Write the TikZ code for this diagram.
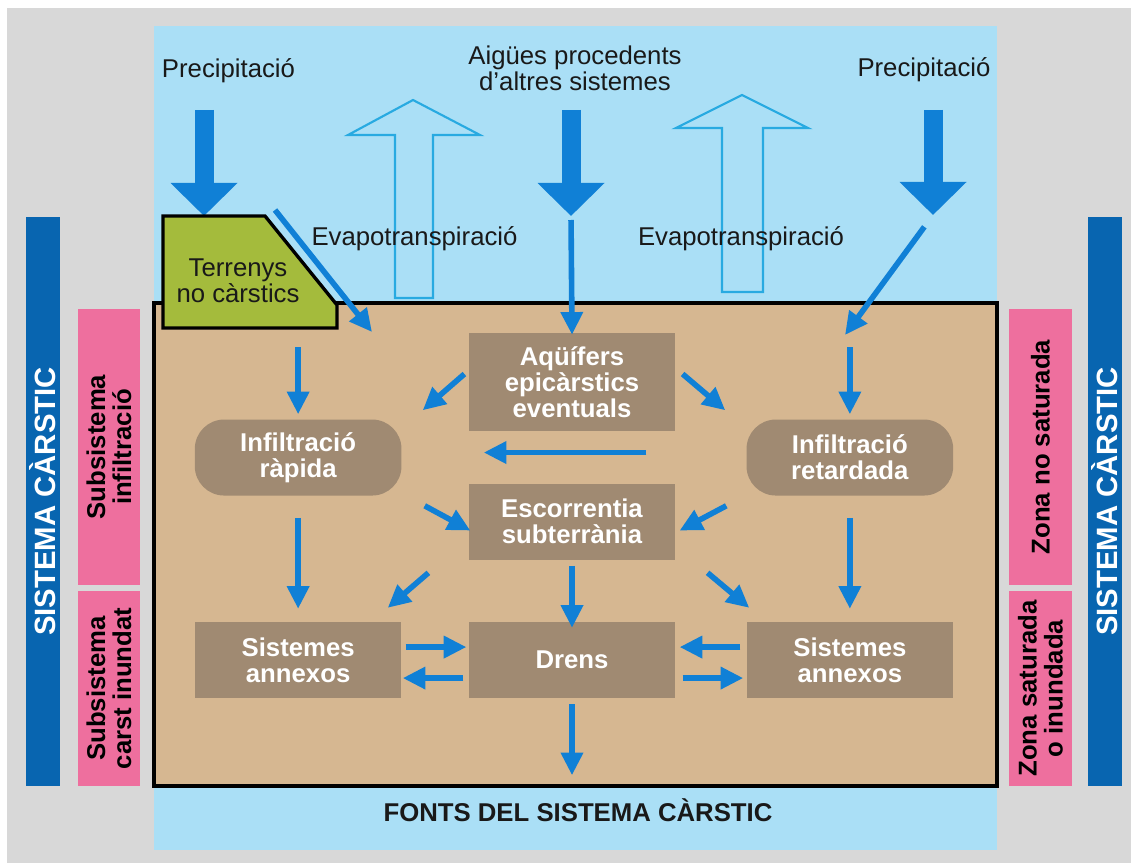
\documentclass[tikz,border=0pt]{standalone}
\usepackage{fontspec}
\setmainfont{Liberation Sans}
\usetikzlibrary{positioning, calc, arrows.meta}

\definecolor{karstgray}{RGB}{216,216,216}
\definecolor{skyblue}{RGB}{170,223,246}
\definecolor{soiltan}{RGB}{214,183,145}
\definecolor{boxbrown}{RGB}{160,138,114}
\definecolor{flowblue}{RGB}{16,128,214}
\definecolor{barblue}{RGB}{8,101,176}
\definecolor{zonepink}{RGB}{238,111,158}
\definecolor{mossgreen}{RGB}{164,187,60}
\definecolor{evapblue}{RGB}{40,170,225}

\begin{document}
\begin{tikzpicture}[x=0.75pt, y=-0.75pt,
    every node/.style={font=\fontsize{19.3pt}{19.5pt}\selectfont},
    lbl/.style={inner sep=0pt, align=center, text=black!90},
    flux-box/.style={fill=boxbrown, text=white, inner sep=0pt, align=center,
      font=\fontsize{19.3pt}{19.5pt}\selectfont\bfseries, minimum width=155pt, minimum height=57pt},
    flux-round/.style={flux-box, rounded corners=22pt},
    zone-bar/.style={rotate=90, fill=zonepink, inner sep=0pt, align=center, minimum height=47pt,
      font=\fontsize{19.3pt}{19.5pt}\selectfont\bfseries},
    sys-bar/.style={rotate=90, fill=barblue, text=white, inner sep=0pt, minimum height=25.5pt,
      minimum width=426.75pt, font=\fontsize{22pt}{24pt}\selectfont\bfseries},
    flow-arr/.style={draw=flowblue, line width=4.2pt, -{Triangle[width=16pt,length=17pt]}},
    big-arr/.style={draw=flowblue, line width=14.25pt, -{Triangle[width=48.75pt,length=24.75pt]}},
    evap-arr/.style={draw=evapblue, line width=1.6pt, line join=miter}
  ]

  \useasboundingbox (0,0) rectangle (1131,863);
  \fill[karstgray] (7,8) rectangle (1131,863);
  \fill[skyblue] (154,26) rectangle (997,850);

  % side bars
  \node[sys-bar] (SysL) at (43,501.5) {SISTEMA CÀRSTIC};
  \node[sys-bar] (SysR) at (1105,501.5) {SISTEMA CÀRSTIC};
  \node[zone-bar, minimum width=207pt] (SubInf) at (109,447) {Subsistema\\infiltració};
  \node[zone-bar, minimum width=146.25pt] (SubCar) at (109,688.5) {Subsistema\\carst inundat};
  \node[zone-bar, minimum width=207pt] (ZnoS) at (1040.5,447) {Zona no saturada};
  \node[zone-bar, minimum width=146.25pt] (ZS) at (1040.5,688.5) {Zona saturada\\o inundada};

  % inputs and evapotranspiration
  \node[lbl, anchor=base] (PrecL) at (228.5,78) {Precipitació};
  \node[lbl, anchor=base] (PrecR) at (924,77) {Precipitació};
  \node[lbl] (Alt) at (575,68) {Aigües procedents\\d’altres sistemes};

  \draw[evap-arr] (413,100) -- (480,135) -- (433,135) -- (433,298) -- (395,298) -- (395,135) -- (348,135) -- cycle;
  \draw[evap-arr] (742,95) -- (808,128) -- (763,128) -- (763,292) -- (722,292) -- (722,128) -- (676,128) -- cycle;
  \node[lbl, anchor=base] (EvL) at (414.5,245) {Evapotranspiració};
  \node[lbl, anchor=base] (EvR) at (741,245) {Evapotranspiració};

  \coordinate (RainL) at (204,110);  \coordinate (SoilL) at (204,216);
  \coordinate (RainM) at (571,110);  \coordinate (SoilM) at (571,216);
  \coordinate (RainR) at (933,110);  \coordinate (SoilR) at (933,215);
  \draw[big-arr] (RainL) -- (SoilL);
  \draw[big-arr] (RainM) -- (SoilM);
  \draw[big-arr] (RainR) -- (SoilR);

  % karst massif
  \draw[line width=2.5pt, fill=soiltan] (154,303) rectangle (997,786);
  \draw[line width=2.5pt, fill=mossgreen] (163,216) -- (265,216) -- (337,305) -- (337,328) -- (163,328) -- cycle;
  \node[lbl] (Terr) at (238,281) {Terrenys\\no càrstics};

  \node[flux-box, minimum height=73.5pt] (Aqf) at (572,382) {Aqüífers\\epicàrstics\\eventuals};
  \node[flux-box, below=39pt of Aqf] (Esc) {Escorrentia\\subterrània};
  \node[flux-box, below=46.5pt of Esc] (Drn) {Drens};
  \node[flux-box, left=50pt of Drn] (AnxL) {Sistemes\\annexos};
  \node[flux-box, right=53pt of Drn] (AnxR) {Sistemes\\annexos};
  \node[flux-round, above=94.5pt of AnxL] (InfR) {Infiltració\\ràpida};
  \node[flux-round, above=94.5pt of AnxR] (InfT) {Infiltració\\retardada};

  \node[lbl, anchor=base, font=\fontsize{19.3pt}{19.5pt}\selectfont\bfseries] (Fonts) at (578,821) {FONTS DEL SISTEMA CÀRSTIC};

  % flows
  \coordinate (SlopeTop) at (275,210);
  \coordinate (InL) at (372,332);
  \coordinate (InR) at (845,335);
  \draw[flow-arr] (SlopeTop) -- (InL);
  \draw[flow-arr, shorten <=3pt, shorten >=-1.5pt] (SoilM) -- (Aqf.north);
  \draw[flow-arr, shorten <=11pt] (SoilR) -- (InR);

  \draw[flow-arr] ([yshift=54pt]InfR.north) -- ([yshift=3.75pt]InfR.north);
  \draw[flow-arr] ([yshift=54pt]InfT.north) -- ([yshift=3.75pt]InfT.north);
  \draw[flow-arr, shorten <=16.5pt, shorten >=9.75pt] (InfR.south) -- (AnxL.north);
  \draw[flow-arr, shorten <=16.5pt, shorten >=9.75pt] (InfT.south) -- (AnxR.north);

  \draw[flow-arr] ($(Aqf.west)+(-4,-8)$) -- ($(InfR.north east)+(21,-9)$);
  \draw[flow-arr] ($(Aqf.east)+(7,-8)$) -- ($(InfT.north west)+(-21,-9)$);
  \draw[flow-arr, shorten <=75pt, shorten >=61.5pt] ([yshift=3.75pt]InfT.west) -- ([yshift=3.75pt]InfR.east);
  \draw[flow-arr] ($(InfR.south east)+(23,10)$) -- ($(Esc.west)+(2,9)$);
  \draw[flow-arr] ($(InfT.south west)+(-20,10)$) -- ($(Esc.east)+(4,9)$);

  \draw[flow-arr, shorten <=4.5pt, shorten >=-4.5pt] (Esc.south) -- (Drn.north);
  \draw[flow-arr] ($(Esc.south west)+(-40,13)$) -- ($(AnxL.north east)+(-14,-14)$);
  \draw[flow-arr] ($(Esc.south east)+(32,13)$) -- ($(AnxR.north west)+(3,-14)$);

  \draw[flow-arr] ($(AnxL.east)+(4,-13)$) -- ($(Drn.west)+(-2,-13)$);
  \draw[flow-arr] ($(Drn.west)+(-5,18)$) -- ($(AnxL.east)+(1,18)$);
  \draw[flow-arr] ($(AnxR.west)+(-6,-13)$) -- ($(Drn.east)+(4,-13)$);
  \draw[flow-arr] ($(Drn.east)+(7,18)$) -- ($(AnxR.west)+(-3,18)$);
  \draw[flow-arr, shorten <=4.5pt, shorten >=17pt] (Drn.south) -- (Drn.south |- Fonts.north);

\end{tikzpicture}
\end{document}
